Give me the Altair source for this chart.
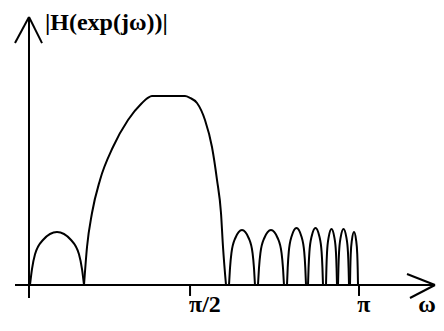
import altair as alt
import pandas as pd

# ---- data (x in units of pi, magnitude normalised to passband = 1)
main_u = [0.1667, 0.1758, 0.1909, 0.2152, 0.2545, 0.3000, 0.3424, 0.3600, 0.3727,
          0.4727, 0.4880, 0.5091, 0.5333, 0.5545, 0.5697, 0.5818, 0.5879, 0.5970]
main_m = [0.0, 0.201, 0.381, 0.556, 0.730, 0.873, 0.963, 0.990, 1.0,
          1.0, 0.990, 0.963, 0.873, 0.730, 0.556, 0.381, 0.201, 0.0]

lobe_start = [0.003, 0.6061, 0.6939, 0.7818, 0.8455, 0.9000, 0.9364, 0.9727]
lobe_end = [0.1667, 0.6848, 0.7727, 0.8394, 0.8909, 0.9333, 0.9697, 0.9970]
lobe_peak = [0.280, 0.291, 0.291, 0.302, 0.302, 0.296, 0.296, 0.280]

# shape of one side lobe (fraction of width, fraction of peak)
lobe_frac = [0.0, 0.037, 0.093, 0.24, 0.5, 0.76, 0.907, 0.963, 1.0]
lobe_shape = [0.0, 0.30, 0.58, 0.85, 1.0, 0.85, 0.58, 0.30, 0.0]

tick_pos = [0.488, 1.0]
tick_labels = ["π/2", "π"]

# axis segments (x, y, x2, y2) in data units
ax_x = [0.0, -0.0424, -0.0424, 0.0, -0.0424, 1.1455, 1.1545]
ax_y = [-0.0688, 0.0, 1.280, 1.418, 0.0, 0.0582, -0.0688]
ax_x2 = [0.0, 1.2303, 0.0, 0.0394, 1.2303, 1.2303, 1.2303]
ax_y2 = [1.418, 0.0, 1.418, 1.280, 0.0, 0.0, 0.0]

rows = []
for i, (u, m) in enumerate(zip(main_u, main_m)):
    rows.append({"seg": "main", "i": i, "u": u, "m": m})
for k, (a, b, h) in enumerate(zip(lobe_start, lobe_end, lobe_peak)):
    for i, (f, s) in enumerate(zip(lobe_frac, lobe_shape)):
        rows.append({"seg": f"lobe{k}", "i": i, "u": a + f * (b - a), "m": h * s})
curve_df = pd.DataFrame(rows)

axis_df = pd.DataFrame({"x": ax_x + tick_pos, "y": ax_y + [0.0, 0.0],
                        "x2": ax_x2 + tick_pos, "y2": ax_y2 + [-0.058, -0.058]})

label_df = pd.DataFrame({
    "x": [0.0485, 0.533, 1.015, 1.206],
    "y": [1.349, -0.145, -0.145, -0.145],
    "t": ["|H(exp(jω))|", tick_labels[0], tick_labels[1], "ω"],
})

xs = alt.Scale(domain=[-0.063636, 1.233333], nice=False, zero=False)
ys = alt.Scale(domain=[-0.174603, 1.465608], nice=False, zero=False)

curves = alt.Chart(curve_df).mark_line(
    interpolate="monotone", color="black", strokeWidth=2
).encode(
    x=alt.X("u:Q", scale=xs, axis=None),
    y=alt.Y("m:Q", scale=ys, axis=None),
    detail="seg:N",
    order="i:Q",
)

axes = alt.Chart(axis_df).mark_rule(color="black", strokeWidth=2).encode(
    x=alt.X("x:Q", scale=xs, axis=None),
    y=alt.Y("y:Q", scale=ys, axis=None),
    x2="x2:Q",
    y2="y2:Q",
)

title_lbl = alt.Chart(label_df.iloc[[0]]).mark_text(
    align="left", baseline="alphabetic", font="Liberation Serif",
    fontWeight="bold", fontSize=24, color="black"
).encode(
    x=alt.X("x:Q", scale=xs, axis=None),
    y=alt.Y("y:Q", scale=ys, axis=None),
    text="t:N",
)

tick_lbl = alt.Chart(label_df.iloc[1:]).mark_text(
    align="center", baseline="alphabetic", font="Liberation Serif",
    fontWeight="bold", fontSize=24, color="black"
).encode(
    x=alt.X("x:Q", scale=xs, axis=None),
    y=alt.Y("y:Q", scale=ys, axis=None),
    text="t:N",
)

chart = alt.layer(axes, curves, title_lbl, tick_lbl).properties(
    width=428, height=310,
    autosize=alt.AutoSizeParams(type="none"),
    padding=0,
    background="white",
).configure_view(stroke=None)

chart.save("out.html", embed_options={"renderer": "svg", "actions": False})
